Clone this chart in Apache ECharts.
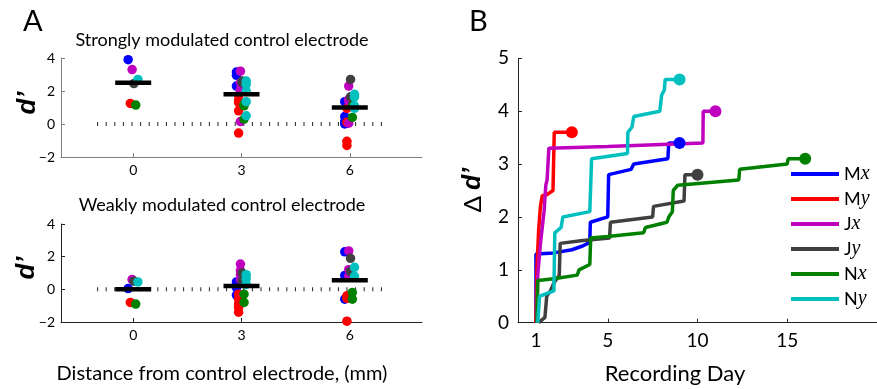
<!DOCTYPE html>
<html><head><meta charset="utf-8">
<script src="https://cdn.jsdelivr.net/npm/echarts@6/dist/echarts.min.js"></script>
<style>html,body{margin:0;padding:0;background:#fff}#c{width:877px;height:389px}</style>
</head><body><div id="c"></div>
<script>
// ---------- Data ----------
const monkeys = ['Mx', 'My', 'Jx', 'Jy', 'Nx', 'Ny'];
const colors = ['#0000ff', '#ff0000', '#bf00bf', '#404040', '#008000', '#00bfbf'];
const distances = [0, 3, 6];
const distanceTicks = [0, 3, 6];
const dTicks = [-2, 0, 2, 4];
const dayTicks = [1, 5, 10, 15];

// Panel A, strongly modulated control electrode: [distance (mm), d']
const strong_Mx = [[0, 3.9], [3, 3.15], [3, 2.95], [3, 2.3], [6, 1.35], [6, 0.45], [6, 0.15], [6, 0.0]];
const strong_My = [[0, 1.25], [3, 1.75], [3, 1.45], [3, 1.3], [3, 0.8], [3, -0.55], [6, 0.95], [6, 0.1], [6, -1.05], [6, -1.3]];
const strong_Jx = [[0, 3.3], [3, 3.2], [3, 2.5], [3, 2.1], [3, 0.15], [6, 2.3], [6, 1.5], [6, 1.4], [6, 0.05]];
const strong_Jy = [[0, 2.45], [3, 2.6], [3, 2.5], [6, 2.7], [6, 1.65]];
const strong_Nx = [[0, 1.15], [3, 1.2], [3, 1.1], [3, 0.3], [6, 1.1], [6, 0.4]];
const strong_Ny = [[0, 2.7], [3, 2.6], [3, 2.4], [3, 2.0], [3, 1.35], [3, 0.5], [6, 1.8], [6, 1.65], [6, 1.1], [6, 0.95]];
const strong_mean = [2.5, 1.8, 1.0];

// Panel A, weakly modulated control electrode
const weak_Mx = [[0, 0.05], [3, 0.45], [3, 0.1], [3, -0.35], [6, 2.3], [6, 0.85], [6, -0.6]];
const weak_My = [[0, -0.8], [3, -0.3], [3, -0.6], [3, -0.9], [3, -1.1], [3, -1.4], [6, -0.4], [6, -0.55], [6, -1.95]];
const weak_Jx = [[0, 0.6], [3, 1.55], [3, 1.15], [3, 0.9], [3, 0.6], [6, 2.35], [6, 1.2], [6, 0.8]];
const weak_Jy = [[0, 0.5], [3, 1.0], [3, 0.5], [6, 1.9], [6, 1.1]];
const weak_Nx = [[0, -0.9], [3, -0.3], [3, -0.8], [6, -0.2], [6, -0.6]];
const weak_Ny = [[0, 0.45], [3, 0.9], [3, 0.65], [3, 0.3], [6, 1.35], [6, 0.8]];
const weak_mean = [0.0, 0.2, 0.55];

// Panel B: cumulative delta d' vs recording day
const day_Mx = [[1, 0], [1, 1.3], [2, 1.32], [3, 1.38], [3.6, 1.45], [4, 1.52], [4.03, 1.9], [5, 2.0], [5.05, 2.8], [6.3, 2.9], [6.45, 3.0], [8.35, 3.1], [8.4, 3.4], [9, 3.4]];
const day_My = [[1, 0], [1.05, 1.0], [1.15, 1.75], [1.25, 2.2], [1.35, 2.4], [1.6, 2.42], [1.95, 2.5], [2.02, 3.6], [3, 3.6]];
const day_Jx = [[1.05, 0], [1.1, 0.9], [1.25, 1.5], [1.35, 1.8], [1.45, 2.1], [1.55, 2.6], [1.62, 2.7], [1.72, 3.3], [5, 3.33], [8, 3.37], [10.3, 3.4], [10.32, 4.0], [11, 4.0]];
const day_Jy = [[1.15, 0], [1.5, 0.1], [1.6, 0.5], [1.8, 0.6], [2.0, 0.75], [2.3, 0.9], [2.35, 1.5], [3.5, 1.55], [5.1, 1.6], [5.15, 1.9], [7.5, 2.0], [7.55, 2.2], [9.25, 2.3], [9.3, 2.8], [10, 2.8]];
const day_Nx = [[1.05, 0], [1.1, 0.8], [2, 0.83], [3.3, 0.9], [3.4, 1.0], [4, 1.1], [4.05, 1.6], [5, 1.63], [7, 1.7], [7.1, 1.8], [8.3, 1.9], [8.4, 2.0], [8.6, 2.1], [8.65, 2.5], [8.9, 2.6], [12.3, 2.7], [12.35, 2.9], [15, 3.0], [15.05, 3.1], [16, 3.1]];
const day_Ny = [[1.1, 0], [1.2, 0.5], [2.0, 0.6], [2.05, 1.7], [2.4, 1.8], [2.5, 2.0], [4, 2.1], [4.1, 3.1], [6.1, 3.2], [6.12, 3.6], [6.35, 3.7], [6.45, 3.9], [7.9, 4.0], [8.0, 4.3], [8.15, 4.4], [8.2, 4.6], [9, 4.6]];

// ---------- Chart ----------
const FONT = 'Lato';
const jitter = [-0.14, -0.08, -0.03, 0.02, 0.07, 0.13];
const strongSets = [strong_Mx, strong_My, strong_Jx, strong_Jy, strong_Nx, strong_Ny];
const weakSets = [weak_Mx, weak_My, weak_Jx, weak_Jy, weak_Nx, weak_Ny];
const daySets = [day_Mx, day_My, day_Jx, day_Jy, day_Nx, day_Ny];

function axisA(idx, col, isX) {
  if (isX) {
    return {
      type: 'value', gridIndex: idx, min: -2, max: 8,
      axisLine: { onZero: false, lineStyle: { color: col, width: 1 } },
      axisTick: { inside: true, length: 4, customValues: distanceTicks, lineStyle: { color: col } },
      axisLabel: { customValues: distanceTicks, color: '#000', fontFamily: FONT, fontSize: 14, margin: 6 },
      splitLine: { show: false }
    };
  }
  return {
    type: 'value', gridIndex: idx, min: -2, max: 4, interval: 2,
    axisLine: { show: true, onZero: false, lineStyle: { color: col, width: 1 } },
    axisTick: { show: true, inside: true, length: 4, lineStyle: { color: col } },
    axisLabel: { color: '#000', fontFamily: FONT, fontSize: 14, margin: 6,
      formatter: v => (v < 0 ? '\u2212' + Math.abs(v) : String(v)) },
    splitLine: { show: false }
  };
}

const series = [];
[[strongSets, strong_mean, 0], [weakSets, weak_mean, 1]].forEach(([sets, means, gi]) => {
  series.push({
    type: 'line', xAxisIndex: gi, yAxisIndex: gi, data: [[-1, 0], [7, 0]],
    symbol: 'none', silent: true, z: 1,
    lineStyle: { color: '#222', width: 4, type: [1, 7.6], cap: 'butt' }
  });
  sets.forEach((s, k) => {
    series.push({
      type: 'scatter', xAxisIndex: gi, yAxisIndex: gi, z: 2,
      symbolSize: 9.5, itemStyle: { color: colors[k], opacity: 1 },
      data: s.map(p => [p[0] + jitter[k], p[1]])
    });
  });
  series.push({
    type: 'scatter', xAxisIndex: gi, yAxisIndex: gi, z: 5,
    symbol: 'rect', symbolSize: [36, 4.5], itemStyle: { color: '#000', opacity: 1 },
    data: distances.map((d, i) => [d, means[i]])
  });
});

daySets.forEach((s, k) => {
  const n = s.length;
  series.push({
    name: monkeys[k], type: 'line', xAxisIndex: 2, yAxisIndex: 2, z: 3,
    data: s, symbol: 'circle', showSymbol: true,
    symbolSize: (v, p) => (p.dataIndex === n - 1 ? 12 : 0),
    lineStyle: { color: colors[k], width: 3.5 }, itemStyle: { color: colors[k], opacity: 1 }
  });
});

const chart = echarts.init(document.getElementById('c'), null, { renderer: 'canvas' });
chart.setOption({
  animation: false,
  backgroundColor: '#fff',
  grid: [
    { left: 61, right: 455, top: 58, height: 99 },
    { left: 61, right: 455, top: 224, height: 98 },
    { left: 518, right: -10, top: 58.3, height: 264.4 }
  ],
  xAxis: [
    axisA(0, '#808080', true),
    axisA(1, '#222', true),
    {
      type: 'value', gridIndex: 2, min: 0, max: 20,
      axisLine: { onZero: false, lineStyle: { color: '#222', width: 1 } },
      axisTick: { inside: true, length: 4, customValues: dayTicks, lineStyle: { color: '#222' } },
      axisLabel: { customValues: dayTicks, color: '#000', fontFamily: FONT, fontSize: 19, margin: 9 },
      splitLine: { show: false }
    }
  ],
  yAxis: [
    axisA(0, '#808080', false),
    axisA(1, '#222', false),
    {
      type: 'value', gridIndex: 2, min: 0, max: 5, interval: 1,
      axisLine: { show: true, onZero: false, lineStyle: { color: '#222', width: 1 } },
      axisTick: { show: true, inside: true, length: 4, lineStyle: { color: '#222' } },
      axisLabel: { color: '#000', fontFamily: FONT, fontSize: 19, margin: 9 },
      splitLine: { show: false }
    }
  ],
  legend: {
    data: monkeys, orient: 'vertical', left: 786, top: 159,
    icon: 'rect', itemWidth: 48, itemHeight: 4, itemGap: 5,
    formatter: name => `{u|${name[0]}}{i|${name[1]}}`,
    textStyle: {
      color: '#000', lineHeight: 20,
      rich: {
        u: { fontFamily: FONT, fontSize: 18, lineHeight: 20, color: '#000' },
        i: { fontFamily: 'Liberation Serif', fontStyle: 'italic', fontSize: 20, lineHeight: 20, color: '#000' }
      }
    }
  },
  graphic: [
    { type: 'text', left: 23, top: 7, style: { text: 'A', font: '29px ' + FONT, fill: '#000' } },
    { type: 'text', left: 469, top: 7, style: { text: 'B', font: '29px ' + FONT, fill: '#000' } },
    { type: 'text', x: 222, y: 40, style: { text: 'Strongly modulated control electrode', font: '18px ' + FONT, fill: '#000', align: 'center', verticalAlign: 'middle' } },
    { type: 'text', x: 222, y: 205, style: { text: 'Weakly modulated control electrode', font: '18px ' + FONT, fill: '#000', align: 'center', verticalAlign: 'middle' } },
    { type: 'text', x: 222, y: 374, style: { text: 'Distance from control electrode, (mm)', font: '20px ' + FONT, fill: '#000', align: 'center', verticalAlign: 'middle' } },
    { type: 'text', x: 675, y: 374, style: { text: 'Recording Day', font: '22px ' + FONT, fill: '#000', align: 'center', verticalAlign: 'middle' } },
    { type: 'text', x: 28, y: 103, rotation: Math.PI / 2, style: { text: 'd\u2019', font: 'italic bold 26px Arial, "Liberation Sans"', fill: '#000', align: 'center', verticalAlign: 'middle' } },
    { type: 'text', x: 27, y: 268, rotation: Math.PI / 2, style: { text: 'd\u2019', font: 'italic bold 26px Arial, "Liberation Sans"', fill: '#000', align: 'center', verticalAlign: 'middle' } },
    { type: 'text', x: 473, y: 190, rotation: Math.PI / 2, style: {
        text: '{a|\u0394 }{b|d\u2019}', align: 'center', verticalAlign: 'middle',
        rich: {
          a: { font: '24px ' + FONT, fill: '#000' },
          b: { font: 'italic bold 25px Arial, "Liberation Sans"', fill: '#000' }
        } } }
  ],
  series: series
});
</script>
</body></html>
